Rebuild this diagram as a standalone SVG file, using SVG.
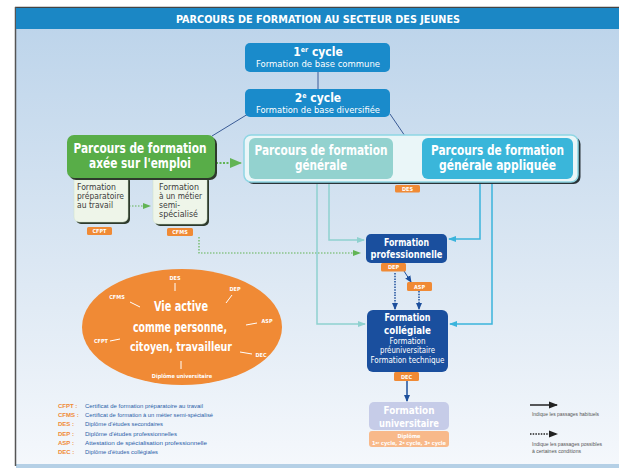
<svg xmlns="http://www.w3.org/2000/svg" width="619" height="468" viewBox="0 0 619 468">
<defs>
<linearGradient id="bg" x1="0" y1="0" x2="0" y2="1">
<stop offset="0" stop-color="#bbd3ea"/>
<stop offset="0.55" stop-color="#dbe7f3"/>
<stop offset="1" stop-color="#f5f8fc"/>
</linearGradient>
<marker id="aTeal" markerWidth="8" markerHeight="8" refX="7" refY="4" orient="auto" markerUnits="userSpaceOnUse"><path d="M0,1 L8,4 L0,7 z" fill="#8fd1cf"/></marker>
<marker id="aBlue" markerWidth="8" markerHeight="8" refX="7" refY="4" orient="auto" markerUnits="userSpaceOnUse"><path d="M0,1 L8,4 L0,7 z" fill="#3bb4dc"/></marker>
<marker id="aGreen" markerWidth="8" markerHeight="8" refX="7" refY="4" orient="auto" markerUnits="userSpaceOnUse"><path d="M0,1 L8,4 L0,7 z" fill="#62b455"/></marker>
<marker id="aGreenBig" markerWidth="12" markerHeight="12" refX="11" refY="6" orient="auto" markerUnits="userSpaceOnUse"><path d="M0,1 L12,6 L0,11 z" fill="#62b455"/></marker>
<marker id="aTealBig" markerWidth="10" markerHeight="10" refX="9" refY="5" orient="auto" markerUnits="userSpaceOnUse"><path d="M0,1 L10,5 L0,9 z" fill="#9fd8d6"/></marker>
<marker id="aBlueBig" markerWidth="10" markerHeight="10" refX="9" refY="5" orient="auto" markerUnits="userSpaceOnUse"><path d="M0,1 L10,5 L0,9 z" fill="#38b1dc"/></marker>
<marker id="aDark" markerWidth="7" markerHeight="7" refX="6" refY="3.5" orient="auto" markerUnits="userSpaceOnUse"><path d="M0,0.5 L7,3.5 L0,6.5 z" fill="#1d4f9c"/></marker>
<marker id="aBlack" markerWidth="9" markerHeight="8" refX="8" refY="4" orient="auto" markerUnits="userSpaceOnUse"><path d="M0,0.5 L9,4 L0,7.5 z" fill="#222"/></marker>
</defs>
<style>
.c{font-family:"DejaVu Sans Condensed","DejaVu Sans","Liberation Sans",sans-serif;font-stretch:condensed}
.b{font-weight:bold}
.w{fill:#fff}
.m{text-anchor:middle}
.tag{fill:#f08a35}
.tagt{font-family:"DejaVu Sans Condensed","DejaVu Sans",sans-serif;font-weight:bold;font-size:5.5px;fill:#fff;text-anchor:middle}
.sub{font-family:"DejaVu Sans Condensed","DejaVu Sans",sans-serif;font-size:9px;fill:#3c3c3c}
.leg{font-family:"Liberation Sans",sans-serif;font-size:6px}
.ab{fill:#f08a35;font-weight:bold}
.ds{fill:#2b5ea8}
.lg2{font-family:"Liberation Sans",sans-serif;font-size:5.5px;fill:#555}
.el{font-family:"DejaVu Sans Condensed","DejaVu Sans",sans-serif;font-weight:bold;font-size:5.5px;fill:#fff}
.tk{stroke:#fff;stroke-width:1}
</style>

<!-- frame / background -->
<rect x="16" y="8" width="603" height="460" fill="url(#bg)"/>
<rect x="16" y="464" width="603" height="4" fill="#b5d0e6"/>
<line x1="15" y1="7.5" x2="619" y2="7.5" stroke="#444" stroke-width="1.5"/>
<line x1="15.5" y1="7" x2="15.5" y2="466" stroke="#555" stroke-width="1.5"/>
<rect x="16" y="8" width="603" height="21" fill="#1b87c5"/>
<text class="c b w m" x="318" y="23" font-size="11" textLength="284" lengthAdjust="spacingAndGlyphs">PARCOURS DE FORMATION AU SECTEUR DES JEUNES</text>

<!-- connectors -->
<g id="connectors" fill="none">
<line x1="318" y1="72" x2="318" y2="89" stroke="#3a5b96" stroke-width="1"/>
<line x1="248" y1="114" x2="212" y2="136" stroke="#3a5b96" stroke-width="1"/>
<line x1="390" y1="114" x2="405" y2="136" stroke="#3a5b96" stroke-width="1"/>
<line x1="216" y1="163" x2="241" y2="163" stroke="#62b455" stroke-width="2" stroke-dasharray="2,1.5" marker-end="url(#aGreenBig)"/>
<line x1="129" y1="206" x2="150" y2="206" stroke="#62b455" stroke-width="1.2" stroke-dasharray="1.5,1.5" marker-end="url(#aGreen)"/>
<polyline points="199,237 199,253 360,253" stroke="#62b455" stroke-width="1.2" stroke-dasharray="1.5,1.5" marker-end="url(#aGreen)"/>
<line x1="394" y1="152" x2="420" y2="152" stroke="#9fd8d6" stroke-width="2" marker-end="url(#aTealBig)"/>
<line x1="421" y1="167" x2="395" y2="167" stroke="#38b1dc" stroke-width="2" marker-end="url(#aBlueBig)"/>
<polyline points="329,179 329,240 364,240" stroke="#8fd1cf" stroke-width="1.5" marker-end="url(#aTeal)"/>
<polyline points="317,179 317,324 365,324" stroke="#8fd1cf" stroke-width="1.5" marker-end="url(#aTeal)"/>
<polyline points="480,179 480,239 449,239" stroke="#3bb4dc" stroke-width="1.5" marker-end="url(#aBlue)"/>
<polyline points="492,179 492,324 450,324" stroke="#3bb4dc" stroke-width="1.5" marker-end="url(#aBlue)"/>
<line x1="404" y1="271" x2="411" y2="282" stroke="#1d4f9c" stroke-width="1" marker-end="url(#aDark)"/>
<line x1="395" y1="273" x2="395" y2="309" stroke="#1d4f9c" stroke-width="1.5" stroke-dasharray="1.5,1.2" marker-end="url(#aDark)"/>
<line x1="419" y1="291" x2="419" y2="309" stroke="#1d4f9c" stroke-width="1.5" stroke-dasharray="1.5,1.2" marker-end="url(#aDark)"/>
<line x1="407" y1="381" x2="407" y2="401" stroke="#1d4f9c" stroke-width="1.5" marker-end="url(#aDark)"/>
</g>

<!-- nodes -->
<g id="cycle1">
<rect x="245" y="43" width="145" height="29" rx="5" fill="#1a8bcb"/>
<text class="c b w m" x="318" y="56" font-size="12">1<tspan font-size="7" dy="-4">er</tspan><tspan dy="4"> cycle</tspan></text>
<text class="c w m" x="318" y="67" font-size="9" textLength="124" lengthAdjust="spacingAndGlyphs">Formation de base commune</text>
</g>
<g id="cycle2">
<rect x="245" y="89" width="145" height="28" rx="5" fill="#1a8bcb"/>
<text class="c b w m" x="318" y="102" font-size="12">2<tspan font-size="7" dy="-4">e</tspan><tspan dy="4"> cycle</tspan></text>
<text class="c w m" x="318" y="113" font-size="9" textLength="124" lengthAdjust="spacingAndGlyphs">Formation de base diversifiée</text>
</g>

<g id="emploi">
<rect x="76" y="176" width="54" height="48" rx="5" fill="#2e3a2c"/>
<rect x="74" y="174" width="54" height="48" rx="5" fill="#eef5e9" stroke="#cfe3c6" stroke-width="0.5"/>
<rect x="155" y="176" width="54" height="50" rx="5" fill="#2e3a2c"/>
<rect x="153" y="174" width="54" height="50" rx="5" fill="#eef5e9" stroke="#cfe3c6" stroke-width="0.5"/>
<rect x="69" y="137" width="148" height="43" rx="7" fill="#2e3a2c"/>
<rect x="67" y="135" width="148" height="43" rx="7" fill="#58ad48"/>
<text class="c b w m" x="140" y="153" font-size="14" textLength="133" lengthAdjust="spacingAndGlyphs">Parcours de formation</text>
<text class="c b w m" x="140" y="168" font-size="14" textLength="102" lengthAdjust="spacingAndGlyphs">axée sur l'emploi</text>
<text class="sub" x="77" y="190" textLength="39" lengthAdjust="spacingAndGlyphs">Formation</text>
<text class="sub" x="77" y="199" textLength="47" lengthAdjust="spacingAndGlyphs">préparatoire</text>
<text class="sub" x="77" y="208" textLength="36" lengthAdjust="spacingAndGlyphs">au travail</text>
<text class="sub" x="159" y="190" textLength="40" lengthAdjust="spacingAndGlyphs">Formation</text>
<text class="sub" x="159" y="199" textLength="43" lengthAdjust="spacingAndGlyphs">à un métier</text>
<text class="sub" x="159" y="208" textLength="21" lengthAdjust="spacingAndGlyphs">semi-</text>
<text class="sub" x="159" y="217" textLength="39" lengthAdjust="spacingAndGlyphs">spécialisé</text>
<rect class="tag" x="87" y="227" width="25" height="8" rx="1.5"/>
<text class="tagt" x="99.5" y="233">CFPT</text>
<rect class="tag" x="167" y="228" width="26" height="8" rx="1.5"/>
<text class="tagt" x="180" y="234">CFMS</text>
</g>

<g id="generale">
<rect x="246.5" y="137" width="334" height="47" rx="7" fill="#2a3338"/>
<rect x="244" y="135" width="334" height="47" rx="7" fill="#eaf6f8" stroke="#8fd6e4" stroke-width="1.5"/>
<rect x="249" y="138" width="144" height="41" rx="6" fill="#93d2cf"/>
<text class="c b w m" x="321" y="155" font-size="14" textLength="133" lengthAdjust="spacingAndGlyphs">Parcours de formation</text>
<text class="c b w m" x="321" y="170" font-size="14" textLength="52" lengthAdjust="spacingAndGlyphs">générale</text>
</g>
<g id="appliquee">
<rect x="422" y="138" width="151" height="41" rx="6" fill="#3ab6da"/>
<text class="c b w m" x="497.5" y="155" font-size="14" textLength="133" lengthAdjust="spacingAndGlyphs">Parcours de formation</text>
<text class="c b w m" x="497.5" y="170" font-size="14" textLength="117" lengthAdjust="spacingAndGlyphs">générale appliquée</text>
<rect class="tag" x="395" y="185" width="25" height="7.5" rx="1.5"/>
<text class="tagt" x="407.5" y="190.8">DES</text>
</g>

<g id="professionnelle">
<rect x="366" y="234" width="81" height="29" rx="5" fill="#1a4f9e"/>
<text class="c b w m" x="406.5" y="245.5" font-size="10.5" textLength="45" lengthAdjust="spacingAndGlyphs">Formation</text>
<text class="c b w m" x="406.5" y="258" font-size="10.5" textLength="72" lengthAdjust="spacingAndGlyphs">professionnelle</text>
<rect class="tag" x="381" y="263" width="25" height="8.5" rx="1.5"/>
<text class="tagt" x="393.5" y="269.3">DEP</text>
<rect class="tag" x="407" y="282" width="25" height="9" rx="1.5"/>
<text class="tagt" x="419.5" y="288.5">ASP</text>
</g>

<g id="collegiale">
<rect x="367" y="310" width="81" height="62" rx="6" fill="#1a4f9e"/>
<text class="c b w m" x="407.5" y="321" font-size="10.5" textLength="46" lengthAdjust="spacingAndGlyphs">Formation</text>
<text class="c b w m" x="407.5" y="333.5" font-size="10.5" textLength="47" lengthAdjust="spacingAndGlyphs">collégiale</text>
<text class="c w m" x="407.5" y="344" font-size="8" textLength="36" lengthAdjust="spacingAndGlyphs">Formation</text>
<text class="c w m" x="407.5" y="353.3" font-size="8" textLength="55" lengthAdjust="spacingAndGlyphs">préuniversitaire</text>
<text class="c w m" x="407.5" y="362.6" font-size="8" textLength="74" lengthAdjust="spacingAndGlyphs">Formation technique</text>
<rect class="tag" x="394" y="372" width="25" height="9" rx="1.5"/>
<text class="tagt" x="406.5" y="378.5">DEC</text>
</g>

<g id="universitaire">
<rect x="369" y="402" width="80" height="28" rx="5" fill="#c6cce8"/>
<text class="c b w m" x="409" y="413.5" font-size="10.5" textLength="51" lengthAdjust="spacingAndGlyphs">Formation</text>
<text class="c b w m" x="409" y="426.5" font-size="10.5" textLength="60" lengthAdjust="spacingAndGlyphs">universitaire</text>
<rect x="369" y="431" width="80" height="16" rx="3" fill="#f8b98a"/>
<text class="c b w m" x="409" y="438" font-size="5.5">Diplôme</text>
<text class="c b w m" x="409" y="445" font-size="5.5" textLength="74" lengthAdjust="spacingAndGlyphs">1<tspan font-size="3.5" dy="-1.5">er</tspan><tspan dy="1.5"> cycle, 2</tspan><tspan font-size="3.5" dy="-1.5">e</tspan><tspan dy="1.5"> cycle, 3</tspan><tspan font-size="3.5" dy="-1.5">e</tspan><tspan dy="1.5"> cycle</tspan></text>
</g>

<g id="vie-active">
<ellipse cx="182" cy="327" rx="100" ry="58" fill="#f08a35"/>
<text class="c b w m" x="181" y="311" font-size="14" textLength="54" lengthAdjust="spacingAndGlyphs">Vie active</text>
<text class="c b w m" x="180" y="332" font-size="14" textLength="94" lengthAdjust="spacingAndGlyphs">comme personne,</text>
<text class="c b w m" x="181" y="351" font-size="13" textLength="102" lengthAdjust="spacingAndGlyphs">citoyen, travailleur</text>
<text class="el" x="261" y="357" text-anchor="middle">DEC</text>
<line class="tk" x1="240" y1="352" x2="252" y2="354"/>
<text class="el" x="175" y="280" text-anchor="middle">DES</text>
<line class="tk" x1="175" y1="283" x2="175" y2="291"/>
<text class="el" x="235" y="291" text-anchor="middle">DEP</text>
<line class="tk" x1="232" y1="295" x2="226" y2="303"/>
<text class="el" x="267" y="323" text-anchor="middle">ASP</text>
<line class="tk" x1="246" y1="325" x2="257" y2="323"/>
<text class="el" x="101" y="343" text-anchor="middle">CFPT</text>
<line class="tk" x1="110" y1="341" x2="120" y2="339"/>
<text class="el" x="117" y="299" text-anchor="middle">CFMS</text>
<line class="tk" x1="130" y1="302" x2="140" y2="307"/>
<line class="tk" x1="181" y1="361" x2="181" y2="369"/>
<text class="el" x="182" y="378" text-anchor="middle">Diplôme universitaire</text>
</g>

<g id="legende">
<text class="leg ab" x="58" y="408">CFPT :</text><text class="leg ds" x="85" y="408" textLength="118" lengthAdjust="spacingAndGlyphs">Certificat de formation préparatoire au travail</text>
<text class="leg ab" x="58" y="417">CFMS :</text><text class="leg ds" x="85" y="417" textLength="128" lengthAdjust="spacingAndGlyphs">Certificat de formation à un métier semi-spécialisé</text>
<text class="leg ab" x="58" y="426">DES :</text><text class="leg ds" x="85" y="426" textLength="78" lengthAdjust="spacingAndGlyphs">Diplôme d'études secondaires</text>
<text class="leg ab" x="58" y="435.5">DEP :</text><text class="leg ds" x="85" y="435.5" textLength="92" lengthAdjust="spacingAndGlyphs">Diplôme d'études professionnelles</text>
<text class="leg ab" x="58" y="445">ASP :</text><text class="leg ds" x="85" y="445" textLength="122" lengthAdjust="spacingAndGlyphs">Attestation de spécialisation professionnelle</text>
<text class="leg ab" x="58" y="454">DEC :</text><text class="leg ds" x="85" y="454" textLength="73" lengthAdjust="spacingAndGlyphs">Diplôme d'études collégiales</text>
<line x1="530" y1="405" x2="557" y2="405" stroke="#222" stroke-width="1.5" marker-end="url(#aBlack)"/>
<text class="lg2" x="532" y="416" textLength="67" lengthAdjust="spacingAndGlyphs">Indique les passages habituels</text>
<line x1="530" y1="434" x2="557" y2="434" stroke="#222" stroke-width="1.5" stroke-dasharray="1.5,1.2" marker-end="url(#aBlack)"/>
<text class="lg2" x="532" y="446" textLength="70" lengthAdjust="spacingAndGlyphs">Indique les passages possibles</text>
<text class="lg2" x="532" y="453" textLength="49" lengthAdjust="spacingAndGlyphs">à certaines conditions</text>
</g>
</svg>
